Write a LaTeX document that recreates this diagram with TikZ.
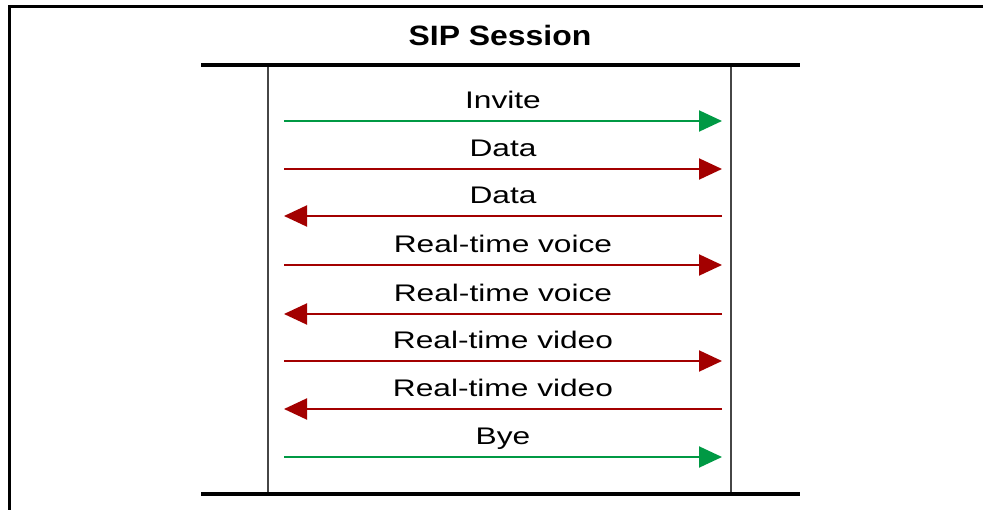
\documentclass[tikz,border=0pt]{standalone}
\usepackage{fontspec}
\setmainfont{Liberation Sans}
\usetikzlibrary{arrows.meta}
\definecolor{sipgreen}{RGB}{0,153,68}
\definecolor{sipred}{RGB}{163,0,0}
\definecolor{lifegrey}{RGB}{70,70,70}
\tikzset{
  msg/.style={line width=2pt, -{Triangle[length=23pt,width=21pt]}},
  msglabel/.style={anchor=base, yshift=12pt, inner sep=0pt, text=black,
    font=\fontsize{24}{28}\selectfont, xscale=1.32},
  bar/.style={line width=4pt, black},
  lifeline/.style={line width=1.5pt, lifegrey},
}
\begin{document}
\begin{tikzpicture}[x=1pt,y=-1pt]
                \useasboundingbox (0,0) rectangle (983,510);
                % frame
                \draw[line width=3pt] (9,510) -- (9,7) -- (983,7);

                \node[font=\fontsize{28}{32}\selectfont\bfseries, xscale=1.14, inner sep=0pt] (title) at (500,35) {SIP Session};

                \coordinate (barTopL) at (201,65);
                \coordinate (barTopR) at (800,65);
                \coordinate (barBotL) at (201,494);
                \coordinate (barBotR) at (800,494);
                \coordinate (leftTop) at (268,65);
                \coordinate (leftBot) at (268,494);
                \coordinate (rightTop) at (731,65);
                \coordinate (rightBot) at (731,494);

                \draw[lifeline] (leftTop) -- (leftBot);
                \draw[lifeline] (rightTop) -- (rightBot);
                \draw[bar] (barTopL) -- (barTopR);
                \draw[bar] (barBotL) -- (barBotR);

                % message ends
                \coordinate (inviteL) at (284,121);   \coordinate (inviteR) at (722,121);
                \coordinate (dataAL) at (284,169);    \coordinate (dataAR) at (722,169);
                \coordinate (dataBL) at (284,216);    \coordinate (dataBR) at (722,216);
                \coordinate (voiceAL) at (284,265);   \coordinate (voiceAR) at (722,265);
                \coordinate (voiceBL) at (284,314);   \coordinate (voiceBR) at (722,314);
                \coordinate (videoAL) at (284,361);   \coordinate (videoAR) at (722,361);
                \coordinate (videoBL) at (284,409);   \coordinate (videoBR) at (722,409);
                \coordinate (byeL) at (284,457);      \coordinate (byeR) at (722,457);

                \draw[msg, sipgreen] (inviteL) -- node[msglabel]{Invite} (inviteR);
                \draw[msg, sipred] (dataAL) -- node[msglabel]{Data} (dataAR);
                \draw[msg, sipred] (dataBR) -- node[msglabel]{Data} (dataBL);
                \draw[msg, sipred] (voiceAL) -- node[msglabel]{Real-time voice} (voiceAR);
                \draw[msg, sipred] (voiceBR) -- node[msglabel]{Real-time voice} (voiceBL);
                \draw[msg, sipred] (videoAL) -- node[msglabel]{Real-time video} (videoAR);
                \draw[msg, sipred] (videoBR) -- node[msglabel]{Real-time video} (videoBL);
                \draw[msg, sipgreen] (byeL) -- node[msglabel]{Bye} (byeR);
\end{tikzpicture}
\end{document}
